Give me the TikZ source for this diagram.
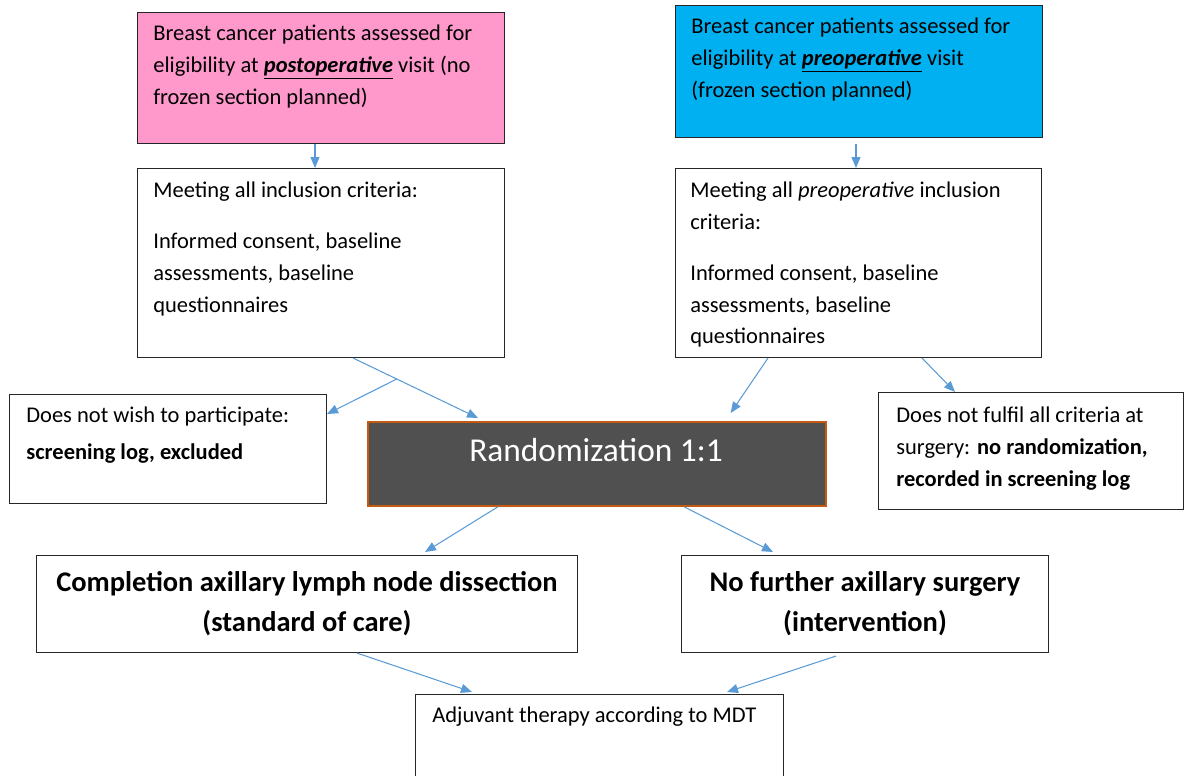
\documentclass[tikz,border=0pt]{standalone}
\usepackage{fontspec}
\setmainfont{Carlito}
\usetikzlibrary{calc,positioning,arrows.meta}
\definecolor{pinkfill}{HTML}{FF99CC}
\definecolor{bluefill}{HTML}{00B0F0}
\definecolor{randfill}{HTML}{505050}
\definecolor{randline}{HTML}{C55A11}
\definecolor{linkblue}{HTML}{5B9BD5}
\tikzstyle{frame}=[draw=black!85,line width=0.6pt,rectangle,inner sep=0pt,anchor=north west]
\tikzstyle{txt}=[align=left,inner sep=0pt,anchor=north west,font=\fontsize{12.8}{18}\selectfont]
\tikzstyle{big}=[align=center,font=\fontsize{16.2}{22.7}\selectfont\bfseries]
\tikzstyle{link}=[linkblue,line width=0.6pt,-{Triangle[length=0.22cm,width=0.18cm]}]
\newcommand{\keyword}[1]{\underline{\textbf{\textit{#1}}}}

\begin{document}
\begin{tikzpicture}[x=0.02cm,y=-0.02cm]
\useasboundingbox (0,0) rectangle (1184,775);
% screening at the two visits
\node[frame,fill=pinkfill,minimum width=7.34cm,minimum height=2.62cm] (post) at (137,12) {};
\node[txt] (posttext) at ($(post.north west)+(16,13)$) {Breast cancer patients assessed for\\eligibility at \keyword{postoperative} visit (no\\frozen section planned)};
\node[frame,fill=bluefill,minimum width=7.34cm,minimum height=2.64cm] (pre) at (675,5) {};
\node[txt] (pretext) at ($(pre.north west)+(16,13)$) {Breast cancer patients assessed for\\eligibility at \keyword{preoperative} visit\\(frozen section planned)};

\node[frame,minimum width=7.34cm,minimum height=3.78cm] (critL) at (137,168) {};
\node[txt] (critLtext) at ($(critL.north west)+(16,14)$) {Meeting all inclusion criteria:\\[11pt]Informed consent, baseline\\assessments, baseline\\questionnaires};
\node[frame,minimum width=7.32cm,minimum height=3.78cm] (critR) at (675,168) {};
\node[txt] (critRtext) at ($(critR.north west)+(15,14)$) {Meeting all \textit{preoperative} inclusion\\criteria:\\[11pt]Informed consent, baseline\\assessments, baseline\\questionnaires};

% randomization and drop-outs
\node[frame,minimum width=6.34cm,minimum height=2.18cm] (nowish) at (9,394) {};
\node[txt] (nowishtext) at ($(nowish.north west)+(17,13)$) {Does not wish to participate:\\[3pt]\textbf{screening log, excluded}};
\node[frame,fill=randfill,draw=randline,line width=1pt,minimum width=9.16cm,minimum height=1.68cm] (rand) at (367,421) {};
\node[white,font=\fontsize{19}{24}\selectfont] (randtext) at ($(rand.north west)+(229,29)$) {Randomization 1:1};
\node[frame,minimum width=6.10cm,minimum height=2.34cm] (nofulfil) at (878,392) {};
\node[txt] (nofulfiltext) at ($(nofulfil.north west)+(18,15)$) {Does not fulfil all criteria at\\surgery: \textbf{no randomization,}\\\textbf{recorded in screening log}};

% the two arms
\node[frame,big,minimum width=10.82cm,minimum height=1.94cm] (compl) at (36,555) {Completion axillary lymph node dissection\\(standard of care)};
\node[frame,big,minimum width=7.34cm,minimum height=1.94cm] (nofurther) at (681,555) {No further axillary surgery\\(intervention)};
\node[frame,minimum width=7.36cm,minimum height=1.80cm] (adj) at (415,694) {};
\node[txt] (adjtext) at ($(adj.north west)+(17,13)$) {Adjuvant therapy according to MDT};

\draw[link] ($(post.south west)+(178,0)$) -- ($(critL.north west)+(178,0)$);
\draw[link] ($(pre.south west)+(181,6)$) -- ($(critR.north west)+(181,0)$);
\draw[link] ($(critL.south west)+(216,0)$) -- coordinate[pos=0.35] (split) ($(rand.north west)+(111,-3)$);
\draw[link] (split) -- ($(nowish.north east)+(0,20)$);
\draw[link] ($(critR.south west)+(93,0)$) -- ($(rand.north east)+(-96,-8)$);
\draw[link] ($(critR.south west)+(247,0)$) -- ($(nofulfil.north west)+(77,0)$);
\draw[link] ($(rand.south west)+(131,0)$) -- ($(compl.north west)+(389,-3)$);
\draw[link] ($(rand.south west)+(317,0)$) -- ($(nofurther.north west)+(92,-3)$);
\draw[link] ($(compl.south west)+(321,0)$) -- ($(adj.north west)+(57,-2)$);
\draw[link] ($(nofurther.south east)+(-213,3)$) -- ($(adj.north west)+(312,-2)$);
\end{tikzpicture}
\end{document}
